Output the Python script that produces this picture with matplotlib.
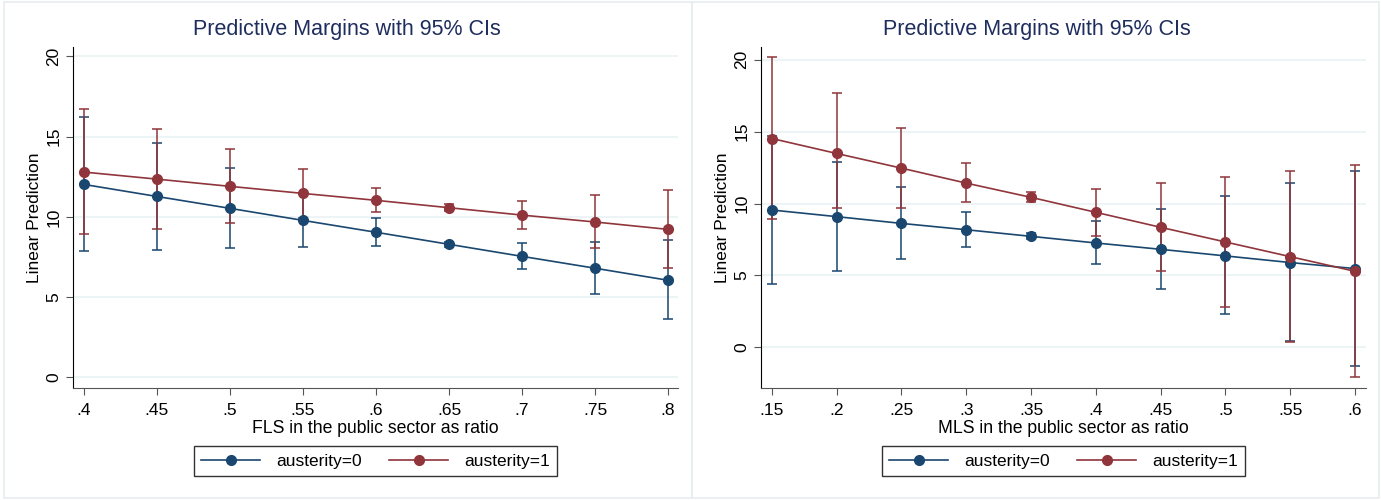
import numpy as np
import matplotlib.pyplot as plt
from matplotlib.lines import Line2D
from matplotlib.patches import Rectangle

plt.rcParams['font.family'] = ['Liberation Sans', 'DejaVu Sans']

# left panel: FLS
fls_x = [0.40, 0.45, 0.50, 0.55, 0.60, 0.65, 0.70, 0.75, 0.80]
fls_labels = ['.4', '.45', '.5', '.55', '.6', '.65', '.7', '.75', '.8']
fls_a0 = [12.02, 11.27, 10.53, 9.78, 9.04, 8.29, 7.54, 6.80, 6.05]
fls_a0_lo = [7.88, 7.96, 8.04, 8.12, 8.17, 8.14, 6.76, 5.18, 3.61]
fls_a0_hi = [16.23, 14.63, 13.06, 11.44, 9.91, 8.44, 8.37, 8.46, 8.54]
fls_a1 = [12.79, 12.35, 11.90, 11.46, 11.03, 10.57, 10.11, 9.68, 9.22]
fls_a1_lo = [8.91, 9.26, 9.62, 9.91, 10.28, 10.37, 9.24, 8.04, 6.80]
fls_a1_hi = [16.70, 15.46, 14.22, 12.99, 11.77, 10.77, 11.00, 11.34, 11.67]

# right panel: MLS
mls_x = [0.15, 0.20, 0.25, 0.30, 0.35, 0.40, 0.45, 0.50, 0.55, 0.60]
mls_labels = ['.15', '.2', '.25', '.3', '.35', '.4', '.45', '.5', '.55', '.6']
mls_a0 = [9.55, 9.09, 8.62, 8.18, 7.72, 7.26, 6.82, 6.36, 5.90, 5.48]
mls_a0_lo = [4.44, 5.32, 6.17, 7.01, 7.52, 5.80, 4.05, 2.29, 0.46, -1.27]
mls_a0_hi = [14.66, 12.90, 11.12, 9.39, 7.92, 8.79, 9.64, 10.52, 11.40, 12.25]
mls_a1 = [14.52, 13.48, 12.46, 11.42, 10.43, 9.39, 8.35, 7.33, 6.31, 5.29]
mls_a1_lo = [8.90, 9.71, 9.66, 10.10, 10.08, 7.77, 5.32, 2.84, 0.37, -2.08]
mls_a1_hi = [20.16, 17.71, 15.26, 12.79, 10.77, 11.00, 11.42, 11.82, 12.23, 12.67]

BLUE = '#1a476f'
RED = '#90353b'
W, H = 1381, 500


def draw_series(ax, x, y, lo, hi, color):
	y = np.array(y)
	err = [y - np.array(lo), np.array(hi) - y]
	ax.errorbar(x, y, yerr=err, fmt='none', ecolor=color, elinewidth=1.1,
		capsize=3.5, capthick=1.1, zorder=2)
	ax.plot(x, y, color=color, lw=1.2, marker='o', ms=7, zorder=3)


def panel(rect, x, labels, a0, a0_lo, a0_hi, a1, a1_lo, a1_hi, xlim, ylim, xlabel, mid_x):
	ax = fig.add_axes(rect)
	draw_series(ax, x, a0, a0_lo, a0_hi, BLUE)
	draw_series(ax, x, a1, a1_lo, a1_hi, RED)
	ax.set_xlim(*xlim)
	ax.set_ylim(*ylim)
	ax.set_xticks(x)
	ax.set_xticklabels(labels)
	ax.set_yticks([0, 5, 10, 15, 20])
	ax.set_yticklabels(['0', '5', '10', '15', '20'], rotation=90, va='center')
	ax.yaxis.grid(True, color='#eaf2f3', lw=1.2)
	ax.set_axisbelow(True)
	for s in ['top', 'right']:
		ax.spines[s].set_visible(False)
	ax.spines['left'].set_color('black')
	ax.spines['bottom'].set_color('#555555')
	ax.tick_params(axis='both', labelsize=12.5, length=5, color='#555555')
	ax.tick_params(axis='x', pad=6)
	# title is centred on the whole graph region, not the plot area
	fig.text(mid_x / W, 1 - 30 / H, 'Predictive Margins with 95% CIs', fontsize=15.5,
		color='#1e2d5e', ha='center', va='center')
	ax.set_xlabel(xlabel, fontsize=12.7, labelpad=1)
	ax.set_ylabel('Linear Prediction', fontsize=12.5, labelpad=3)
	handles = [Line2D([], [], color=BLUE, lw=1.2, marker='o', ms=7),
		Line2D([], [], color=RED, lw=1.2, marker='o', ms=7)]
	leg_x = (rect[0] + rect[2] / 2)
	leg = ax.legend(handles, ['austerity=0', 'austerity=1'], ncol=2, loc='center',
		bbox_to_anchor=(leg_x, 1 - 461 / H), bbox_transform=fig.transFigure,
		fontsize=12.5, frameon=True, fancybox=False, edgecolor='black',
		handlelength=3.4, columnspacing=1.6, borderpad=0.4, handletextpad=0.9)
	leg.get_frame().set_linewidth(1.0)
	return ax


fig = plt.figure(figsize=(W / 100, H / 100), dpi=100)

# graph region borders
fig.patches.append(Rectangle((4 / W, 2 / H), 688 / W, 496 / H, transform=fig.transFigure,
	fill=False, edgecolor='#e6eef0', lw=1.2))
fig.patches.append(Rectangle((692 / W, 2 / H), 687 / W, 496 / H, transform=fig.transFigure,
	fill=False, edgecolor='#e6eef0', lw=1.2))

bottom = 1 - 388 / H
height = (388 - 47) / H

panel([73 / W, bottom, 605 / W, height], fls_x, fls_labels,
	fls_a0, fls_a0_lo, fls_a0_hi, fls_a1, fls_a1_lo, fls_a1_hi,
	(0.3925, 0.8068), (-0.66, 20.58), 'FLS in the public sector as ratio', 347)

panel([761 / W, bottom, 605 / W, height], mls_x, mls_labels,
	mls_a0, mls_a0_lo, mls_a0_hi, mls_a1, mls_a1_lo, mls_a1_hi,
	(0.1416, 0.6085), (-2.82, 20.88), 'MLS in the public sector as ratio', 1037)

fig.savefig('out.png', dpi=100)
